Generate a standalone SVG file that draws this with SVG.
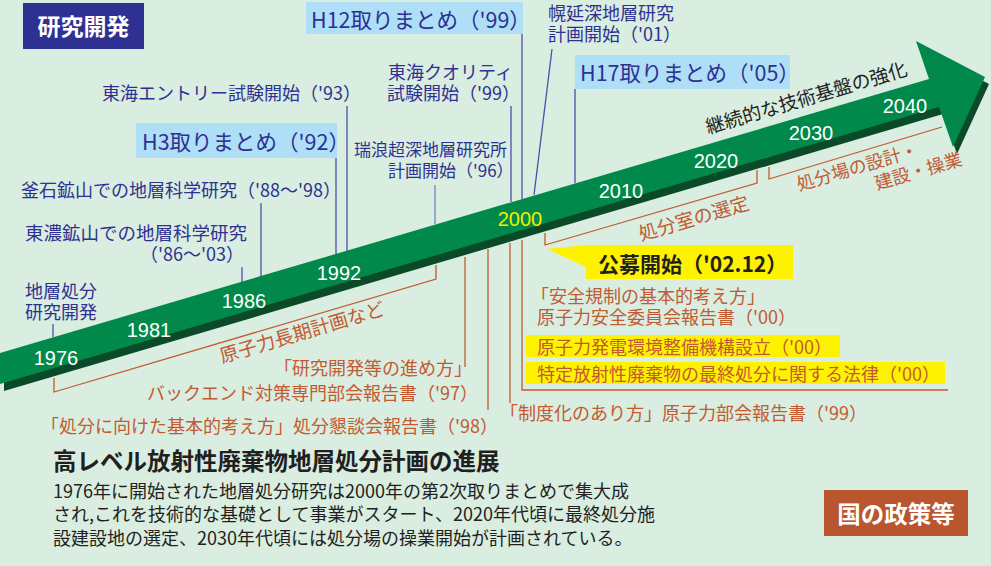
<svg xmlns="http://www.w3.org/2000/svg" width="991" height="566" viewBox="0 0 991 566">
<style>
text{font-family:"Noto Sans CJK JP","Noto Sans",sans-serif}
.b{fill:#2e3192;font-size:18px}
.o{fill:#c25a32;font-size:18px}
.yr{fill:#fff;font-family:"Liberation Sans",Arial,sans-serif;font-size:20px;text-anchor:middle}
.hb{fill:#aedff7}
.bl{stroke:#4a4fa8;stroke-width:1.3;fill:none}
.ol{stroke:#c25a32;stroke-width:1.3;fill:none}
.hl{fill:#2e3192;font-size:21.5px}
.c{fill:#231f20;font-size:18px}
</style>
<rect width="991" height="566" fill="#d9ede0"/>
<g id="arrow">
<polygon points="4,360 933,86 920,48 989,84 957,154 943,114 4,391" fill="#0b4a28"/>
<polygon points="0,353 929,79 916,41 985,77 953,147 939,107 0,384" fill="#00894a"/>
<text class="yr" x="56" y="365">1976</text>
<text class="yr" x="149" y="337">1981</text>
<text class="yr" x="244" y="308">1986</text>
<text class="yr" x="339" y="280">1992</text>
<text class="yr" x="520" y="226" style="fill:#f2ee00">2000</text>
<text class="yr" x="621" y="198">2010</text>
<text class="yr" x="716" y="168">2020</text>
<text class="yr" x="811" y="140">2030</text>
<text class="yr" x="905" y="113">2040</text>
<text x="708" y="134" transform="rotate(-16.4 708 134)" style="fill:#231f20;font-size:19px">継続的な技術基盤の強化</text>
</g>
<g id="connectors">
<line class="bl" x1="53" y1="324" x2="53" y2="337"/>
<line class="bl" x1="242" y1="267" x2="242" y2="282"/>
<line class="bl" x1="261" y1="203" x2="261" y2="277"/>
<line class="bl" x1="336" y1="150" x2="336" y2="254"/>
<line class="bl" x1="347" y1="106" x2="347" y2="251"/>
<line class="bl" x1="435" y1="185" x2="435" y2="224" style="stroke:#7684c4"/>
<line class="bl" x1="511" y1="106" x2="511" y2="202"/>
<line class="bl" x1="522" y1="33" x2="522" y2="199"/>
<line class="bl" x1="552" y1="49" x2="534" y2="195"/>
<line class="bl" x1="575" y1="89" x2="575" y2="183"/>
<polyline class="ol" points="54,378 54,392 436,279 436,265"/>
<polyline class="ol" points="545,233 545,245 757,183 757,170"/>
<polyline class="ol" points="769,167 769,179 942,127"/>
<line class="ol" x1="465" y1="257" x2="465" y2="367"/>
<line class="ol" x1="488" y1="249" x2="488" y2="410"/>
<line class="ol" x1="510" y1="243" x2="510" y2="403"/>
<polyline class="ol" points="522,240 522,390 948,390"/>
</g>
<g id="label-kenkyu">
<rect x="23" y="3" width="121" height="46" fill="#2e3192"/>
<text x="83.5" y="35" style="fill:#fff;font-size:23px;font-weight:bold;text-anchor:middle">研究開発</text>
</g>
<g id="label-kuni">
<rect x="824" y="490" width="144" height="46" fill="#b9562f"/>
<text x="896" y="523" style="fill:#fff;font-size:23.5px;font-weight:bold;text-anchor:middle">国の政策等</text>
</g>
<g id="n-chisou">
<text class="b"><tspan x="25" y="298">地層処分</tspan><tspan x="25" y="319">研究開発</tspan></text>
</g>
<g id="n-tono">
<text class="b"><tspan x="25" y="240" style="font-size:18.5px">東濃鉱山での地層科学研究</tspan><tspan x="140" y="261">（'86〜'03）</tspan></text>
</g>
<g id="n-kamaishi">
<text class="b" x="21" y="197">釜石鉱山での地層科学研究（'88〜'98）</text>
</g>
<g id="n-h3">
<rect class="hb" x="136" y="123" width="201" height="35"/>
<text class="hl" x="142" y="150">H3取りまとめ（'92）</text>
</g>
<g id="n-tokai-entry">
<text class="b" x="102" y="100">東海エントリー試験開始（'93）</text>
</g>
<g id="n-mizunami">
<text class="b" style="font-size:17px"><tspan x="354" y="156">瑞浪超深地層研究所</tspan><tspan x="388" y="177">計画開始（'96）</tspan></text>
</g>
<g id="n-tokai-quality">
<text class="b"><tspan x="388" y="79">東海クオリティ</tspan><tspan x="387" y="100">試験開始（'99）</tspan></text>
</g>
<g id="n-h12">
<rect class="hb" x="306" y="2" width="217" height="32"/>
<text class="hl" x="311" y="28">H12取りまとめ（'99）</text>
</g>
<g id="n-horonobe">
<text class="b"><tspan x="548" y="20">幌延深地層研究</tspan><tspan x="548" y="41">計画開始（'01）</tspan></text>
</g>
<g id="n-h17">
<rect class="hb" x="575" y="55" width="215" height="34"/>
<text class="hl" x="580" y="81">H17取りまとめ（'05）</text>
</g>
<g id="n-choki">
<text class="o" x="222" y="363" transform="rotate(-16.4 222 363)" style="font-size:19px">原子力長期計画など</text>
</g>
<g id="n-shobunshitsu">
<text class="o" x="641" y="241" transform="rotate(-16.4 641 241)" style="font-size:19px">処分室の選定</text>
</g>
<g id="n-shobunjo">
<text class="o" transform="rotate(-16.4 799 191)"><tspan x="799" y="191">処分場の設計・</tspan><tspan x="874" y="212">建設・操業</tspan></text>
</g>
<g id="n-kobo">
<path d="M547,249 L586,245 L793,245 L793,279 L586,279 L586,267 Z" fill="#fff200"/>
<text x="598" y="272" style="fill:#231f20;font-size:21px;font-weight:bold">公募開始（'02.12）</text>
</g>
<g id="n-r97">
<text class="o"><tspan x="472" y="375" style="text-anchor:end">「研究開発等の進め方」</tspan><tspan x="147" y="400">バックエンド対策専門部会報告書（'97）</tspan></text>
</g>
<g id="n-r98">
<text class="o" x="41" y="433">「処分に向けた基本的考え方」処分懇談会報告書（'98）</text>
</g>
<g id="n-r99">
<text class="o" x="500" y="420">「制度化のあり方」原子力部会報告書（'99）</text>
</g>
<g id="n-anzen">
<text class="o"><tspan x="531" y="303">「安全規制の基本的考え方」</tspan><tspan x="537" y="324">原子力安全委員会報告書（'00）</tspan></text>
</g>
<g id="n-numo">
<rect x="526" y="335" width="314" height="22" fill="#fff200"/>
<text class="o" x="537" y="354">原子力発電環境整備機構設立（'00）</text>
</g>
<g id="n-law">
<rect x="526" y="362" width="419" height="22" fill="#fff200"/>
<text class="o" x="537" y="381">特定放射性廃棄物の最終処分に関する法律（'00）</text>
</g>
<g id="caption">
<text x="53" y="470" style="fill:#231f20;font-size:23.5px;font-weight:bold">高レベル放射性廃棄物地層処分計画の進展</text>
<text class="c"><tspan x="53" y="498">1976年に開始された地層処分研究は2000年の第2次取りまとめで集大成</tspan><tspan x="53" y="521">され,これを技術的な基礎として事業がスタート、2020年代頃に最終処分施</tspan><tspan x="53" y="545">設建設地の選定、2030年代頃には処分場の操業開始が計画されている。</tspan></text>
</g>
</svg>
